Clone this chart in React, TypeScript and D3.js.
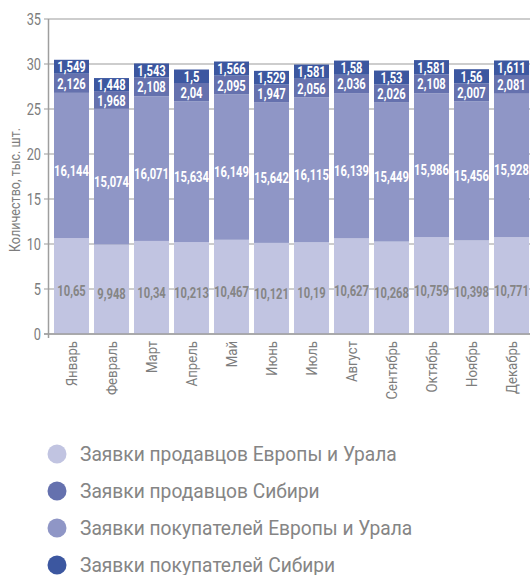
import React from 'react';
import * as d3 from 'd3';

const months = ['Январь', 'Февраль', 'Март', 'Апрель', 'Май', 'Июнь', 'Июль', 'Август', 'Сентябрь', 'Октябрь', 'Ноябрь', 'Декабрь'];
const sellersEU = [10.65, 9.948, 10.34, 10.213, 10.467, 10.121, 10.19, 10.627, 10.268, 10.759, 10.398, 10.771];
const buyersEU = [16.144, 15.074, 16.071, 15.634, 16.149, 15.642, 16.115, 16.139, 15.449, 15.986, 15.456, 15.928];
const sellersSib = [2.126, 1.968, 2.108, 2.04, 2.095, 1.947, 2.056, 2.036, 2.026, 2.108, 2.007, 2.081];
const buyersSib = [1.549, 1.448, 1.543, 1.5, 1.566, 1.529, 1.581, 1.58, 1.53, 1.581, 1.56, 1.611];
const yTicks = [0, 5, 10, 15, 20, 25, 30, 35];
const yTitle = 'Количество, тыс. шт.';
const legendNames = ['Заявки продавцов Европы и Урала', 'Заявки продавцов Сибири', 'Заявки покупателей Европы и Урала', 'Заявки покупателей Сибири'];

const FONT = 'Roboto, "Noto Sans", sans-serif';
const C_SEU = '#c1c4e1';
const C_SSIB = '#6571ae';
const C_BEU = '#8f96c6';
const C_BSIB = '#3c57a0';
const GREY = '#7d7d7d';

export default function App() {
  const W = 530, H = 575;
  const x = d3.scaleBand<string>().domain(months).range([51.5, 531.5]).paddingInner(0.125).paddingOuter(0.0625);
  const y = d3.scaleLinear().domain([0, 35]).range([334, 19]);

  const keys = ['seu', 'beu', 'ssib', 'bsib'];
  const rows = months.map((m, i) => ({ m, seu: sellersEU[i], beu: buyersEU[i], ssib: sellersSib[i], bsib: buyersSib[i] }));
  const stacked = d3.stack<any>().keys(keys)(rows);
  const colors: Record<string, string> = { seu: C_SEU, beu: C_BEU, ssib: C_SSIB, bsib: C_BSIB };
  const source: Record<string, number[]> = { seu: sellersEU, beu: buyersEU, ssib: sellersSib, bsib: buyersSib };
  const fmt = (v: number) => String(v).replace('.', ',');

  const legendColors = [C_SEU, C_SSIB, C_BEU, C_BSIB];

  return (
    <svg width={W} height={H} style={{ position: 'absolute', left: 0, top: 0, fontFamily: FONT }}>
      <rect width={W} height={H} fill="#fff" />
      {yTicks.map(t => (
        <g key={t}>
          <line x1={44} x2={W} y1={y(t)} y2={y(t)} stroke="#bdbdbd" strokeWidth={1.5} />
          <text transform={`translate(41,${y(t)}) scale(0.8,1)`} dy="0.36em" textAnchor="end" fontSize={16} fill={GREY}>{t}</text>
        </g>
      ))}
      <line x1={48.5} x2={48.5} y1={y(35)} y2={y(0) + 4} stroke="#9e9e9e" strokeWidth={1.5} />
      <text transform={`translate(20,190) rotate(-90) scale(0.84,1)`} textAnchor="middle" fontSize={15} fill={GREY}>{yTitle}</text>
      {stacked.map(layer => (
        <g key={layer.key}>
          {layer.map((d: any, i: number) => (
            <rect key={i} x={x(months[i])} width={x.bandwidth()} y={y(d[1])} height={y(d[0]) - y(d[1])} fill={colors[layer.key]} />
          ))}
        </g>
      ))}
      {stacked.map(layer => (
        <g key={'l' + layer.key}>
          {layer.map((d: any, i: number) => {
            const v = d[1] - d[0];
            const big = v > 5;
            const cy = (y(d[0]) + y(d[1])) / 2 + (big ? 5 : 0.5);
            const cx = (x(months[i]) as number) + x.bandwidth() / 2;
            return (
              <text key={i} transform={`translate(${cx},${cy}) scale(0.8,1)`} dy="0.36em" textAnchor="middle"
                fontSize={14} fontWeight="bold" fill={layer.key === 'seu' ? '#858585' : '#ffffff'}>{fmt(source[layer.key][i])}</text>
            );
          })}
        </g>
      ))}
      <line x1={44} x2={W} y1={y(0)} y2={y(0)} stroke="#9e9e9e" strokeWidth={1.5} />
      {months.map(m => (
        <text key={m} transform={`translate(${(x(m) as number) + x.bandwidth() / 2},${y(0) + 7}) rotate(-90) scale(0.88,1)`} dy="0.36em" textAnchor="end" fontSize={15} fill={GREY}>{m}</text>
      ))}
      {legendNames.map((n, i) => (
        <g key={n} transform={`translate(0,${454 + i * 37})`}>
          <circle cx={57} cy={0} r={9.5} fill={legendColors[i]} />
          <text transform="translate(80,0) scale(0.96,1)" dy="0.36em" fontSize={20} fill="#858585">{n}</text>
        </g>
      ))}
    </svg>
  );
}
